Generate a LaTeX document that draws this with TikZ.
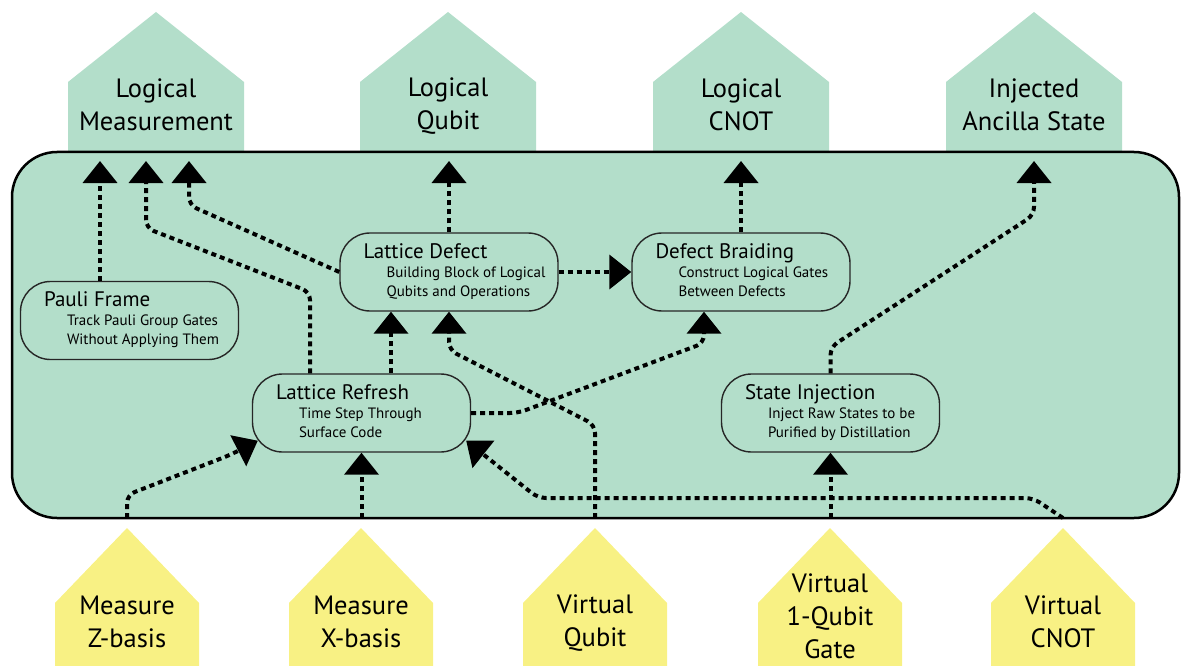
\documentclass[tikz,border=0pt]{standalone}
\usepackage{fontspec}
\setmainfont{PT Sans}
\usetikzlibrary{arrows.meta}
\definecolor{mint}{HTML}{B3DECA}
\definecolor{butter}{HTML}{F8F184}
\begin{document}
\begin{tikzpicture}[x=1pt,y=-1pt,
  conn/.style={line width=4pt, dash pattern=on 5pt off 4pt, rounded corners=8pt, -{Triangle[width=34pt,length=22pt]}},
  proc/.style={draw=black!85, line width=1.4pt, rounded corners=30pt, minimum width=218pt, minimum height=78pt, inner sep=0pt},
  ttl/.style={anchor=base west, font=\fontsize{21}{24}\selectfont, inner sep=0pt, text=black},
  sub/.style={anchor=base west, font=\fontsize{15}{19}\selectfont, inner sep=0pt, align=left, text=black},
  lbl/.style={font=\fontsize{26.5}{33}\selectfont, align=center, text=black, inner sep=0pt},
  ]
\useasboundingbox (0,0) rectangle (1181,666);

% top output pentagons
\foreach \cx in {156,448,741,1034}
  \fill[mint] (\cx-88,160) -- (\cx-88,82) -- (\cx,12) -- (\cx+88,82) -- (\cx+88,160) -- cycle;
\node[lbl] (lm) at (156,105) {Logical\\Measurement};
\node[lbl] (lq) at (448,106) {Logical\\Qubit};
\node[lbl] (lc) at (741,105) {Logical\\CNOT};
\node[lbl] (ia) at (1034,105) {Injected\\Ancilla State};

% bottom input pentagons
\foreach \cx in {127,361,595,830,1063}
  \fill[butter] (\cx-72,670) -- (\cx-72,603) -- (\cx,528) -- (\cx+72,603) -- (\cx+72,670) -- cycle;
\node[lbl] (mz) at (127,622) {Measure\\Z-basis};
\node[lbl] (mx) at (361,622) {Measure\\X-basis};
\node[lbl] (vq) at (595,623) {Virtual\\Qubit};
\node[lbl] (v1) at (830,616) {Virtual\\1-Qubit\\Gate};
\node[lbl] (vc) at (1063,622) {Virtual\\CNOT};

% big container
\draw[fill=mint, line width=2.5pt, rounded corners=45pt] (12,152) rectangle (1179,518);

% process boxes
\node[proc] (pauli)   at (129.5,320.5) {};
\node[proc] (refresh) at (361.5,413) {};
\node[proc] (defect)  at (449,272) {};
\node[proc] (braid)   at (741,272) {};
\node[proc] (inject)  at (830.5,413) {};

\foreach \b/\t/\sa/\sb in {pauli/Pauli Frame/Track Pauli Group Gates/Without Applying Them,
  refresh/Lattice Refresh/Time Step Through/Surface Code,
  defect/Lattice Defect/Building Block of Logical/Qubits and Operations,
  braid/Defect Braiding/Construct Logical Gates/Between Defects,
  inject/State Injection/Inject Raw States to be/Purified by Distillation}{
  \node[ttl] at ([xshift=24pt,yshift=-26pt]\b.north west) {\t};
  \node[sub] at ([xshift=47pt,yshift=-45pt]\b.north west) {\sa};
  \node[sub] at ([xshift=47pt,yshift=-64pt]\b.north west) {\sb};
}

% connector ends
\coordinate (lmA) at (100,161);
\coordinate (lmB) at (146,161);
\coordinate (lmC) at (189,161);
\coordinate (lqT) at (449,161);
\coordinate (lcT) at (741,161);
\coordinate (iaT) at (1034,161);
\coordinate (mzP) at (127,518);
\coordinate (mxP) at (361.5,518);
\coordinate (vqP) at (595,518);
\coordinate (v1P) at (830.5,518);
\coordinate (vcP) at (1063,518);

% connectors
\draw[conn] ([xshift=-29.5pt]pauli.north) -- (lmA);
\draw[conn] ([xshift=-51.5pt]refresh.north) -- (310,292) -- (146,228) -- (lmB);
\draw[conn] (defect.west) -- (189,205) -- (lmC);
\draw[conn] (defect.north) -- (lqT);
\draw[conn] (defect.east) -- (braid.west);
\draw[conn] (braid.north) -- (lcT);
\draw[conn] (inject.north) -- (830.5,347) -- (1034,215) -- (iaT);
\draw[conn] (refresh.east) -- (518,413) -- (704,343) -- ([xshift=-37pt]braid.south);
\draw[conn] ([xshift=29.5pt]refresh.north) -- ([xshift=-58pt]defect.south);
\draw[conn] (vqP) -- (595,425) -- (449,350) -- (defect.south);
\draw[conn] (mxP) -- (refresh.south);
\draw[conn] (mzP) -- (127,495) -- (230,455) -- ([xshift=6pt,yshift=12pt]refresh.south west);
\draw[conn] (v1P) -- (inject.south);
\draw[conn] (vcP) -- (1033,498) -- (538,498) -- ([xshift=-5pt,yshift=12pt]refresh.south east);
\end{tikzpicture}
\end{document}
